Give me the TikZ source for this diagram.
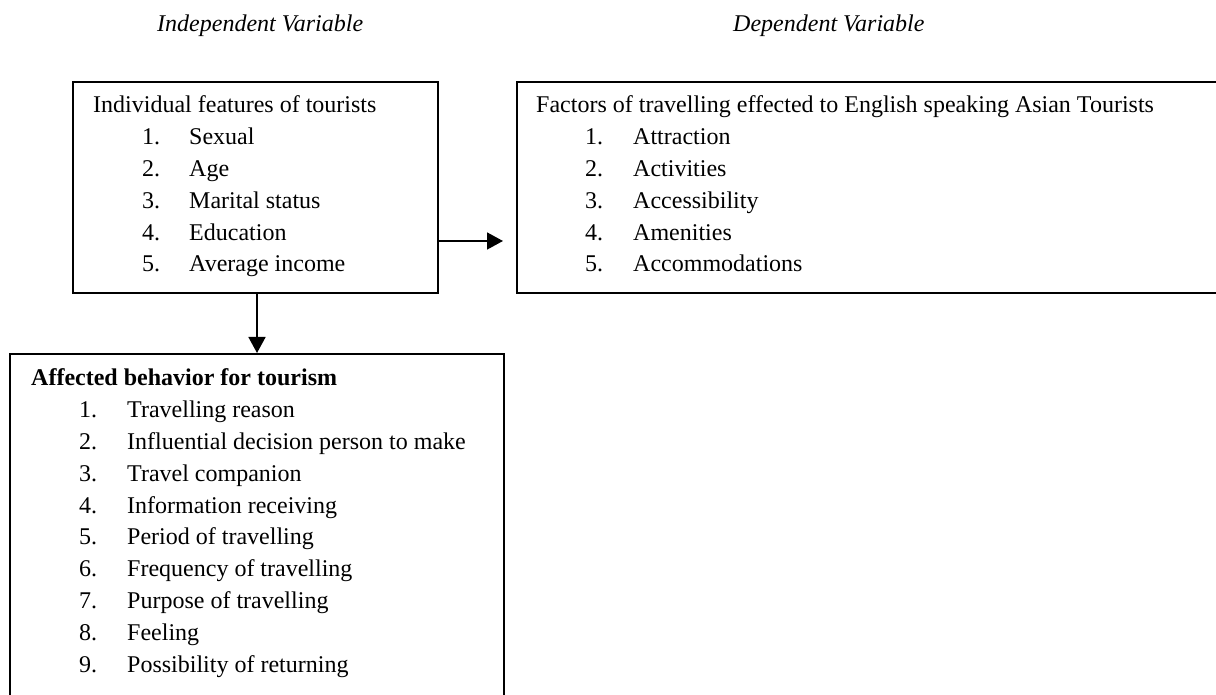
\documentclass[tikz,border=0pt]{standalone}
\usepackage{fontspec}
\setmainfont{Liberation Serif}
\usetikzlibrary{arrows.meta}
\begin{document}
\begin{tikzpicture}[x=1pt,y=1pt,
  box/.style={draw, line width=1.6pt, inner sep=0pt, anchor=north west},
  txt/.style={anchor=base west, inner sep=0pt, font=\fontsize{24}{30}\selectfont},
  title/.style={txt, font=\fontsize{24}{30}\selectfont\itshape},
  arr/.style={line width=1.6pt, -{Triangle[length=16pt,width=17pt]}}]
\useasboundingbox (0,0) rectangle (1216,695);
\clip (0,0) rectangle (1216,695);

% column titles
\node[title] (t1) at (157,663) {Independent Variable};
\node[title] (t2) at (733,663) {Dependent Variable};

% boxes
\node[box, minimum width=365pt, minimum height=211pt] (b1) at (72,614) {};
\node[box, minimum width=730pt, minimum height=211pt] (b2) at (516,614) {};
\node[box, minimum width=494pt, minimum height=380pt] (b3) at (9,342) {};

% box 1: independent variable
\node[txt] (h1) at (93,582) {Individual features of tourists};
\foreach \t [count=\i] in {Sexual,Age,Marital status,Education,Average income} {
  \node[txt] (an\i) at (142,582-31.8*\i) {\i.};
  \node[txt] (a\i) at (189,582-31.8*\i) {\t};
}

% box 2: dependent variable
\node[txt] (h2) at (536,582) {Factors of travelling effected to English speaking Asian Tourists};
\foreach \t [count=\i] in {Attraction,Activities,Accessibility,Amenities,Accommodations} {
  \node[txt] (bn\i) at (585,582-31.8*\i) {\i.};
  \node[txt] (bb\i) at (633,582-31.8*\i) {\t};
}

% box 3: affected behaviour
\node[txt] (h3) at (31,309) {\bfseries Affected behavior for tourism};
\foreach \t [count=\i] in {Travelling reason,Influential decision person to make,Travel companion,Information receiving,Period of travelling,Frequency of travelling,Purpose of travelling,Feeling,Possibility of returning} {
  \node[txt] (cn\i) at (79,309-31.8*\i) {\i.};
  \node[txt] (c\i) at (127,309-31.8*\i) {\t};
}

% connectors
\coordinate (hy) at (0,454);
\coordinate (vx) at (257,0);
\draw[arr, shorten >=13pt] (b1.east |- hy) -- (b2.west |- hy);
\draw[arr] (b1.south -| vx) -- (b3.north -| vx);
\end{tikzpicture}
\end{document}
